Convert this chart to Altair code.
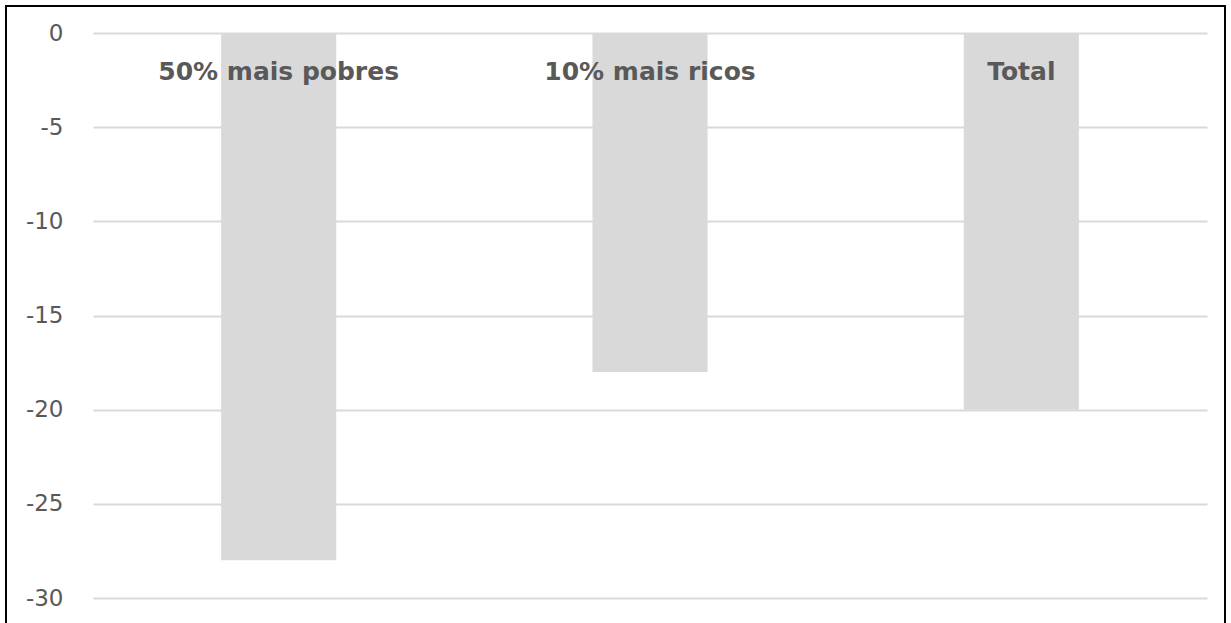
import altair as alt
import pandas as pd

# Percentage change by income group
categories = ["50% mais pobres", "10% mais ricos", "Total"]
values = [-28, -18, -20]
y_ticks = [0, -5, -10, -15, -20, -25, -30]

df = pd.DataFrame({"grupo": categories, "variacao": values})

FONT = "DejaVu Sans"
GREY_TEXT = "#595959"
BAR_GREY = "#d9d9d9"

x_enc = alt.X(
    "grupo:N",
    sort=categories,
    scale=alt.Scale(paddingInner=0.69, paddingOuter=0.345),
    axis=None,
)

bars = alt.Chart(df).mark_bar(color=BAR_GREY).encode(
    x=x_enc,
    y=alt.Y(
        "variacao:Q",
        scale=alt.Scale(domain=[-30, 0], nice=False, zero=True),
        axis=alt.Axis(
            values=y_ticks,
            title=None,
            domain=False,
            ticks=False,
            grid=True,
            gridColor=BAR_GREY,
            gridWidth=2,
            labelExpr="'' + datum.value",
            labelFont=FONT,
            labelFontSize=23,
            labelColor=GREY_TEXT,
            labelPadding=30,
        ),
    ),
    y2=alt.datum(0),
)

labels = alt.Chart(df).mark_text(
    font=FONT,
    fontSize=25,
    fontWeight="bold",
    color=GREY_TEXT,
    baseline="alphabetic",
    align="center",
    dy=47,
).encode(
    x=x_enc,
    y=alt.datum(0),
    text="grupo:N",
)

# outer frame around the figure
frame = alt.Chart(df.head(1)).mark_rect(
    fill=None, stroke="black", strokeWidth=2, clip=False
).encode(
    x=alt.value(-87),
    x2=alt.value(1132),
    y=alt.value(-27),
    y2=alt.value(620),
)

chart = (
    alt.layer(bars, labels, frame)
    .properties(
        width=1114,
        height=565,
        padding={"left": 93, "top": 33, "right": 24, "bottom": 25},
        autosize=alt.AutoSizeParams(type="none"),
        background="white",
    )
    .configure_view(stroke=None)
)

chart.save("out.html", embed_options={"renderer": "svg", "actions": False})
